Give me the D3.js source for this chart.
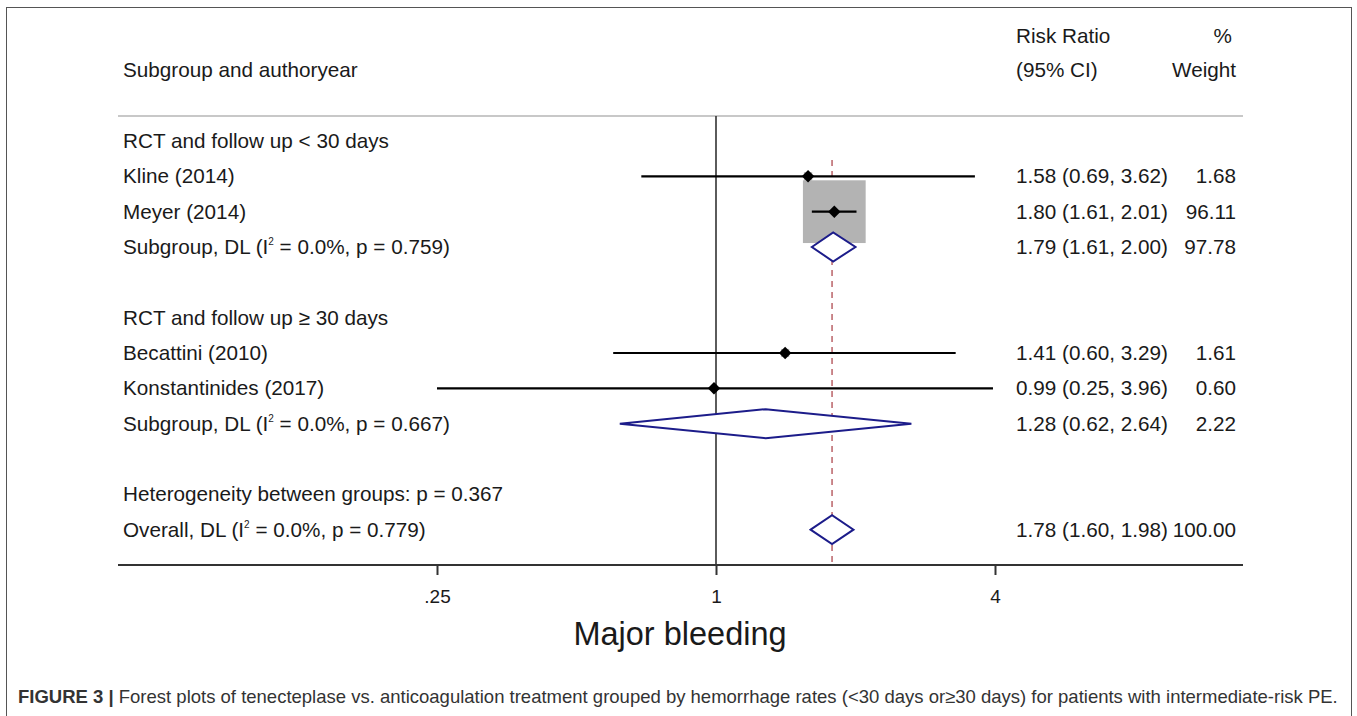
<!DOCTYPE html>
<html>
<head>
<meta charset="utf-8">
<script src="https://cdn.jsdelivr.net/npm/d3@7"></script>
<style>
  body { margin: 0; background: #fff; }
  text { font-family: "Liberation Sans", Arial, sans-serif; fill: #1a1a1a; }
</style>
</head>
<body>
<div id="chart"></div>
<script>
// rows of the forest plot, top to bottom
const rowLabels = [
    "RCT and follow up < 30 days",
    "Kline (2014)",
    "Meyer (2014)",
    "Subgroup, DL (I^2 = 0.0%, p = 0.759)",
    "",
    "RCT and follow up \u2265 30 days",
    "Becattini (2010)",
    "Konstantinides (2017)",
    "Subgroup, DL (I^2 = 0.0%, p = 0.667)",
    "",
    "Heterogeneity between groups: p = 0.367",
    "Overall, DL (I^2 = 0.0%, p = 0.779)"
];
const rowType  = ["head", "study", "study", "pooled", "blank", "head", "study", "study", "pooled", "blank", "note", "pooled"];
const estimate = [null, 1.58, 1.80, 1.79, null, null, 1.41, 0.99, 1.28, null, null, 1.78];
const lower    = [null, 0.69, 1.61, 1.61, null, null, 0.60, 0.25, 0.62, null, null, 1.60];
const upper    = [null, 3.62, 2.01, 2.00, null, null, 3.29, 3.96, 2.64, null, null, 1.98];
const weight   = [null, 1.68, 96.11, 97.78, null, null, 1.61, 0.60, 2.22, null, null, 100.00];

const tickValues = [0.25, 1, 4];
const tickLabels = [".25", "1", "4"];
const overallRR = 1.78;

const width = 1357;
const height = 716;
const fs = 20.7;

const svg = d3.select("#chart")
    .append("svg")
    .attr("width", width)
    .attr("height", height);

// outer frame
svg.append("rect")
    .attr("x", 6.5).attr("y", 7.5)
    .attr("width", 1345).attr("height", 720)
    .attr("fill", "none")
    .attr("stroke", "#555")
    .attr("stroke-width", 1);

const x = d3.scaleLog().domain([0.25, 4]).range([437, 995]);
const y = d3.scaleLinear().domain([0, 12]).range([141, 565]);
const boxSide = d3.scaleSqrt().domain([0, 100]).range([0, 64]);

const plotLeft = 118, plotRight = 1243;
const fmt = d3.format(".2f");

// header
svg.append("text").attr("x", 123).attr("y", 77).attr("font-size", fs).text("Subgroup and authoryear");
svg.append("text").attr("x", 1016).attr("y", 43).attr("font-size", fs).text("Risk Ratio");
svg.append("text").attr("x", 1016).attr("y", 77).attr("font-size", fs).text("(95% CI)");
svg.append("text").attr("x", 1232).attr("y", 43).attr("font-size", fs).attr("text-anchor", "end").text("%");
svg.append("text").attr("x", 1236).attr("y", 77).attr("font-size", fs).attr("text-anchor", "end").text("Weight");

svg.append("line")
    .attr("x1", plotLeft).attr("x2", plotRight)
    .attr("y1", 116).attr("y2", 116)
    .attr("stroke", "#c8c8c8").attr("stroke-width", 2);

// null line at 1
svg.append("line")
    .attr("x1", x(1)).attr("x2", x(1))
    .attr("y1", 116).attr("y2", y(12))
    .attr("stroke", "#333").attr("stroke-width", 1.6);

// overall effect dashed line
svg.append("line")
    .attr("x1", x(overallRR)).attr("x2", x(overallRR))
    .attr("y1", 160).attr("y2", y(12))
    .attr("stroke", "#b5575d").attr("stroke-width", 1.4)
    .attr("stroke-dasharray", "6,5");

const rows = rowLabels.map((label, i) => ({
    label, i, type: rowType[i], est: estimate[i], lo: lower[i], hi: upper[i], w: weight[i]
}));

// row labels (with superscript for I^2)
rows.forEach(d => {
    if (!d.label) return;
    const t = svg.append("text")
        .attr("x", 123).attr("y", y(d.i) + 7)
        .attr("font-size", fs);
    const parts = d.label.split("^2");
    if (parts.length > 1) {
        t.append("tspan").text(parts[0]);
        t.append("tspan").attr("font-size", 10).attr("dy", -9).text("2");
        t.append("tspan").attr("dy", 9).text(parts[1]);
    } else {
        t.text(d.label);
    }
});

const studies = rows.filter(d => d.type === "study");
const pooled = rows.filter(d => d.type === "pooled");

// weight boxes
svg.selectAll(".box")
    .data(studies)
    .enter()
    .append("rect")
    .attr("class", "box")
    .attr("x", d => x(d.est) - boxSide(d.w) / 2)
    .attr("y", d => y(d.i) - boxSide(d.w) / 2)
    .attr("width", d => boxSide(d.w))
    .attr("height", d => boxSide(d.w))
    .attr("fill", "#b3b3b3");

// confidence intervals
svg.selectAll(".ci")
    .data(studies)
    .enter()
    .append("line")
    .attr("class", "ci")
    .attr("x1", d => x(d.lo)).attr("x2", d => x(d.hi))
    .attr("y1", d => y(d.i)).attr("y2", d => y(d.i))
    .attr("stroke", "#000").attr("stroke-width", 2.2);

// point estimates (square turned 45 degrees)
svg.selectAll(".pt")
    .data(studies)
    .enter()
    .append("path")
    .attr("class", "pt")
    .attr("d", d3.symbol().type(d3.symbolSquare).size(78))
    .attr("transform", d => `translate(${x(d.est)},${y(d.i)}) rotate(45)`)
    .attr("fill", "#000");

// pooled diamonds
svg.selectAll(".diamond")
    .data(pooled)
    .enter()
    .append("path")
    .attr("class", "diamond")
    .attr("d", d => {
        const cy = y(d.i);
        return `M${x(d.lo)},${cy} L${x(d.est)},${cy - 14.5} L${x(d.hi)},${cy} L${x(d.est)},${cy + 14.5} Z`;
    })
    .attr("fill", "#fff")
    .attr("stroke", "#1c1c8a")
    .attr("stroke-width", 2);

// right-hand columns
const valued = rows.filter(d => d.est !== null);
svg.selectAll(".rr")
    .data(valued)
    .enter()
    .append("text")
    .attr("class", "rr")
    .attr("x", 1016).attr("y", d => y(d.i) + 7)
    .attr("font-size", fs)
    .text(d => `${fmt(d.est)} (${fmt(d.lo)}, ${fmt(d.hi)})`);

svg.selectAll(".wt")
    .data(valued)
    .enter()
    .append("text")
    .attr("class", "wt")
    .attr("x", 1236).attr("y", d => y(d.i) + 7)
    .attr("font-size", fs)
    .attr("text-anchor", "end")
    .text(d => fmt(d.w));

// x axis
svg.append("line")
    .attr("x1", plotLeft).attr("x2", plotRight)
    .attr("y1", y(12)).attr("y2", y(12))
    .attr("stroke", "#333").attr("stroke-width", 2);

const axis = d3.axisBottom(x)
    .tickValues(tickValues)
    .tickFormat((d, i) => tickLabels[i])
    .tickSize(10)
    .tickPadding(15);

const gAxis = svg.append("g")
    .attr("transform", `translate(0,${y(12)})`)
    .call(axis);
gAxis.select(".domain").remove();
gAxis.selectAll(".tick line").attr("stroke", "#333").attr("stroke-width", 2);
gAxis.selectAll(".tick text")
    .attr("font-family", "Liberation Sans, Arial, sans-serif")
    .attr("font-size", 19)
    .attr("fill", "#1a1a1a");

svg.append("text")
    .attr("x", 680).attr("y", 645)
    .attr("text-anchor", "middle")
    .attr("font-size", 32.5)
    .text("Major bleeding");

// caption
const cap = svg.append("text")
    .attr("x", 18).attr("y", 703)
    .attr("font-size", 18.5)
    .style("fill", "#333");
cap.append("tspan").attr("font-weight", "bold").text("FIGURE 3 | ");
cap.append("tspan").text("Forest plots of tenecteplase vs. anticoagulation treatment grouped by hemorrhage rates (<30 days or\u226530 days) for patients with intermediate-risk PE.");
</script>
</body>
</html>
